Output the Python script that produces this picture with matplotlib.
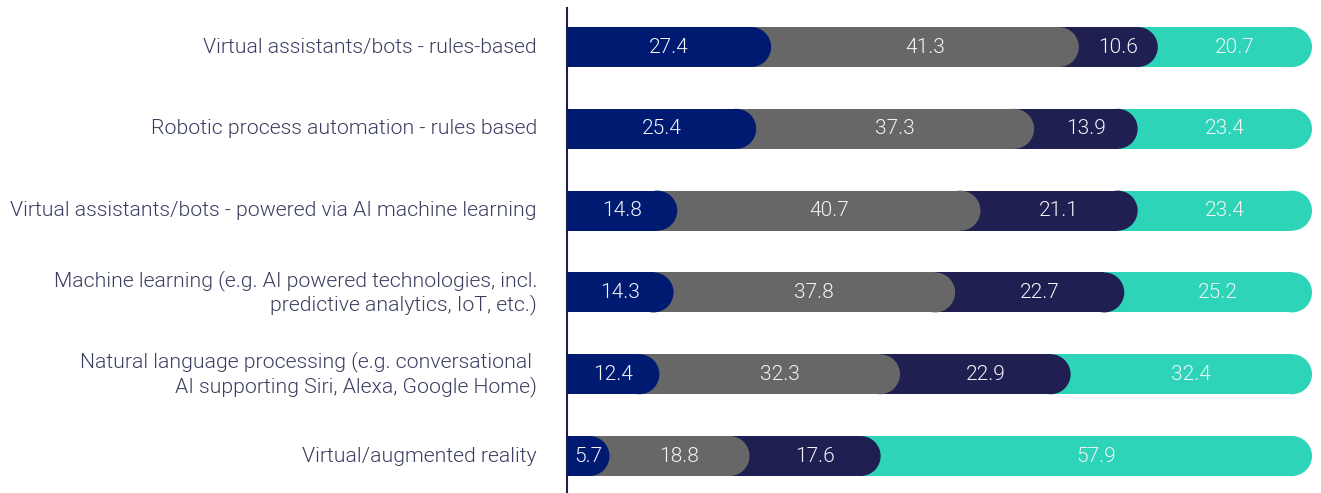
import matplotlib.pyplot as plt
from matplotlib.patches import Rectangle, Ellipse

# --- data ---
categories = [
    "Virtual assistants/bots - rules-based",
    "Robotic process automation - rules based",
    "Virtual assistants/bots - powered via AI machine learning",
    "Machine learning (e.g. AI powered technologies, incl.\npredictive analytics, IoT, etc.)",
    "Natural language processing (e.g. conversational \nAI supporting Siri, Alexa, Google Home)",
    "Virtual/augmented reality",
]
seg1 = [27.4, 25.4, 14.8, 14.3, 12.4, 5.7]
seg2 = [41.3, 37.3, 40.7, 37.8, 32.3, 18.8]
seg3 = [10.6, 13.9, 21.1, 22.7, 22.9, 17.6]
seg4 = [20.7, 23.4, 23.4, 25.2, 32.4, 57.9]
colors = ["#001a72", "#676767", "#1f1f52", "#2dd4b8"]

plt.rcParams['font.family'] = ['Roboto', 'DejaVu Sans']

W, H = 1321, 493
fig = plt.figure(figsize=(W / 100, H / 100), dpi=100)
ax = fig.add_axes([567 / W, 0, (1312 - 567) / W, (493 - 8) / H])

xmax = 100
ylim = (5.452, -0.477)
ax.set_xlim(0, xmax)
ax.set_ylim(*ylim)

bar_h = 0.489
# radius of the round cap in x data units so it looks circular in pixels
px_x = (1312 - 567) / xmax
px_y = (493 - 8) / (ylim[0] - ylim[1])
rx = (bar_h / 2) * px_y / px_x

series = [seg1, seg2, seg3, seg4]
for i, cat in enumerate(categories):
    vals = [s[i] for s in series]
    ends = []
    acc = 0
    for v in vals:
        acc += v
        ends.append(acc)
    starts = [0] + ends[:-1]
    # draw last segment first so earlier caps sit on top
    for k in range(len(vals) - 1, -1, -1):
        z = 10 - k
        left = 0 if k == 0 else starts[k] - rx
        ax.add_patch(Rectangle((left, i - bar_h / 2), ends[k] - rx - left, bar_h,
                               facecolor=colors[k], edgecolor='none', zorder=z))
        ax.add_patch(Ellipse((ends[k] - rx, i), 2 * rx, bar_h,
                             facecolor=colors[k], edgecolor='none', zorder=z))
        ax.text((starts[k] + ends[k]) / 2, i, f"{vals[k]:.1f}", ha='center', va='center',
                color='#f4f4f8', fontsize=15, fontweight=300, zorder=20)
    ax.text(-30 / px_x, i, cat, ha='right', va='center', color='#3a3e60',
            fontsize=15.3, fontweight=300, linespacing=1.22)

for s in ['top', 'right', 'bottom']:
    ax.spines[s].set_visible(False)
ax.spines['left'].set_color('#1f1f52')
ax.spines['left'].set_linewidth(1.5)
ax.set_xticks([])
ax.set_yticks([])
ax.patch.set_alpha(0)

fig.savefig("out.png", dpi=100)
